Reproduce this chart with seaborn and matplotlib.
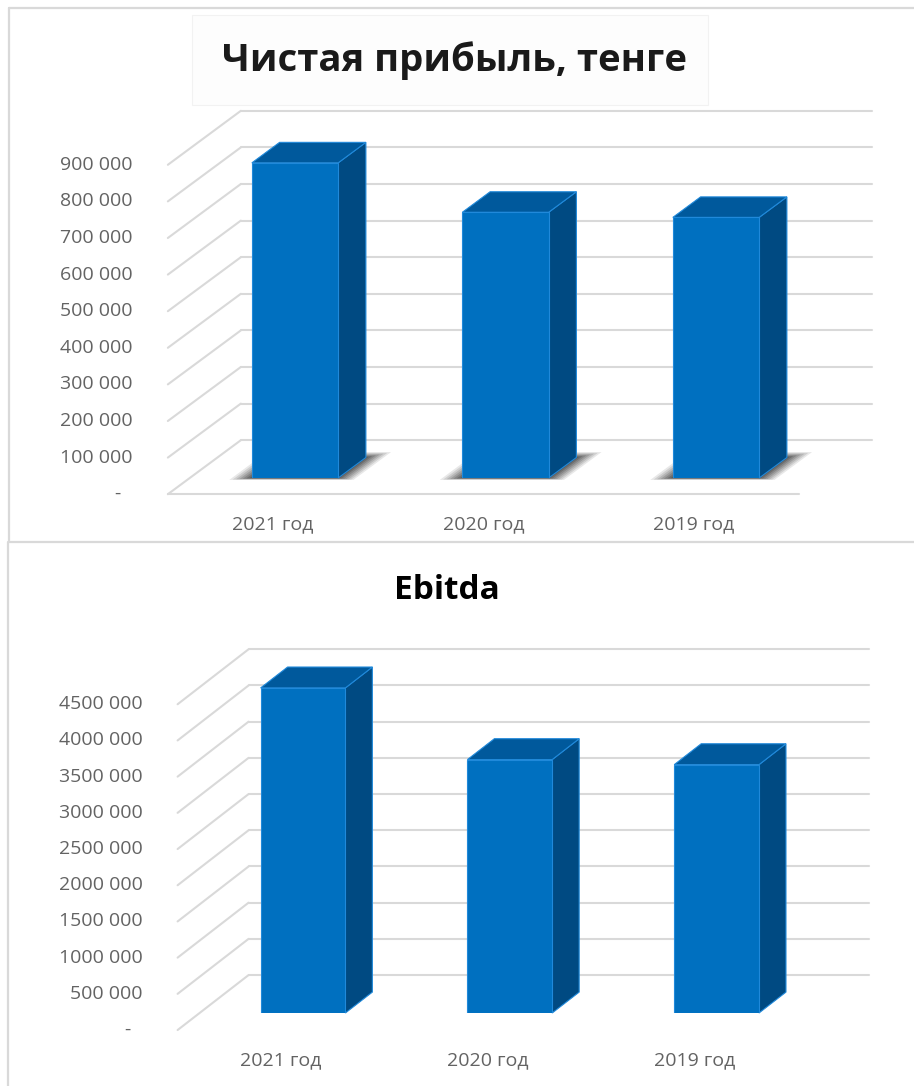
import numpy as np
import pandas as pd
import matplotlib
matplotlib.use("Agg")
import matplotlib.pyplot as plt
import seaborn as sns
from matplotlib.patches import Polygon, Rectangle
from matplotlib.lines import Line2D

# ---------------- data ----------------
categories = ["2021 год", "2020 год", "2019 год"]
profit_values = [861000, 726000, 712000]
ebitda_values = [4490000, 3500000, 3430000]

profit_ticks = [0, 100000, 200000, 300000, 400000, 500000, 600000, 700000, 800000, 900000]
profit_tick_labels = ["-", "100 000", "200 000", "300 000", "400 000", "500 000",
                      "600 000", "700 000", "800 000", "900 000"]
ebitda_ticks = [0, 500000, 1000000, 1500000, 2000000, 2500000, 3000000, 3500000, 4000000, 4500000]
ebitda_tick_labels = ["-", "500 000", "1000 000", "1500 000", "2000 000", "2500 000",
                      "3000 000", "3500 000", "4000 000", "4500 000"]

title_profit = "Чистая прибыль, тенге"
title_ebitda = "Ebitda"

# ---------------- style ----------------
FRONT = "#0070C0"
TOP = "#00599C"
SIDE = "#004A82"
EDGE = "#2089DA"
GRID = "#D9D9D9"
TXT = "#636363"
BORDER = "#D9D9D9"

sns.set_theme(style="white")
plt.rcParams["font.family"] = ["Open Sans", "DejaVu Sans"]

W, H = 914, 1086
fig = plt.figure(figsize=(W / 100, H / 100), dpi=100)
fig.patch.set_facecolor("white")


def rect(left, right, bottom, top):
    return [left / W, 1 - bottom / H, (right - left) / W, (bottom - top) / H]


def draw_panel(ax, values, ticks, tick_labels, D, f, dep, shadow, floor_line):
    df = pd.DataFrame({"year": categories, "value": values})
    sns.barplot(data=df, x="year", y="value", ax=ax, color=FRONT, saturation=1,
                width=0.41, edgecolor=EDGE, linewidth=0.8, zorder=4)
    ax.set_xlim(-0.5, 2.5)
    ax.set_ylim(0, ticks[-1])
    ax.set_axis_off()
    sc = fig.dpi / 100.0
    Dv = np.array(D, dtype=float) * sc

    def P(x, y, t):
        d = ax.transData.transform((x, y)) + Dv * t
        return ax.transData.inverted().transform(d)

    # back wall gridlines + left wall diagonals
    for v in ticks:
        a = P(-0.5, v, 1 - f)
        b = P(2.5, v, 1 - f)
        ax.add_line(Line2D([a[0], b[0]], [a[1], b[1]], color=GRID, lw=1.5,
                           clip_on=False, zorder=1))
        c = P(-0.5, v, -f)
        ax.add_line(Line2D([c[0], a[0]], [c[1], a[1]], color=GRID, lw=1.5,
                           clip_on=False, zorder=1))
    if floor_line:
        a = P(-0.5, 0, -f)
        b = P(2.5, 0, -f)
        ax.add_line(Line2D([a[0], b[0]], [a[1], b[1]], color=GRID, lw=1.5,
                           clip_on=False, zorder=1))

    # y tick labels on the front edge of the left wall
    for v, lab in zip(ticks, tick_labels):
        pos = P(-0.5, v, -f)
        dx = -35 if lab != "-" else -47
        ax.annotate(lab, xy=pos, xytext=(dx * sc, 0), textcoords="offset pixels",
                    ha="right", va="center", fontsize=14, color=TXT,
                    annotation_clip=False)
    # category labels
    for i, cat in enumerate(categories):
        pos = P(i, 0, -f)
        ax.annotate(cat, xy=pos, xytext=(0, -30 * sc), textcoords="offset pixels",
                    ha="center", va="center", fontsize=14, color=TXT,
                    annotation_clip=False)

    # 3D faces
    for p in list(ax.patches):
        x0 = p.get_x()
        w = p.get_width()
        h = p.get_height()
        if shadow:
            layers = [(1.0, 0.10), (0.85, 0.12), (0.7, 0.14), (0.55, 0.16),
                      (0.4, 0.18), (0.25, 0.22), (0.1, 0.25)]
            for ext, alpha in layers:
                xl = x0 - 0.095 * ext
                xr = x0 + w + 0.085 * ext
                pts = [P(xl, 0, -0.035 * ext), P(xr, 0, -0.035 * ext),
                       P(xr, 0, dep + 0.1 * ext), P(xl, 0, dep + 0.1 * ext)]
                ax.add_patch(Polygon(pts, closed=True, facecolor="#1e1e1e",
                                     edgecolor="none", alpha=alpha, zorder=2,
                                     clip_on=False))
        top = [P(x0, h, 0), P(x0 + w, h, 0), P(x0 + w, h, dep), P(x0, h, dep)]
        side = [P(x0 + w, 0, 0), P(x0 + w, h, 0), P(x0 + w, h, dep), P(x0 + w, 0, dep)]
        ax.add_patch(Polygon(side, closed=True, facecolor=SIDE, edgecolor=EDGE,
                             lw=0.8, zorder=3, clip_on=False))
        ax.add_patch(Polygon(top, closed=True, facecolor=TOP, edgecolor=EDGE,
                             lw=0.8, zorder=3, clip_on=False))


# ---------------- panel 1 ----------------
ax1 = fig.add_axes(rect(189.75, 821.25, 478, 478 - 9 * 36.6))
draw_panel(ax1, profit_values, profit_ticks, profit_tick_labels,
           D=(73, 54), f=0.30, dep=0.38, shadow=True, floor_line=True)

# ---------------- panel 2 ----------------
ax2 = fig.add_axes(rect(199.6, 820.0, 1013, 1013 - 9 * 36.2))
draw_panel(ax2, ebitda_values, ebitda_ticks, ebitda_tick_labels,
           D=(71, 55), f=0.31, dep=0.38, shadow=False, floor_line=False)

# ---------------- frames & titles ----------------
def fx(x):
    return x / W


def fy(y):
    return 1 - y / H


for (xa, ya, xb, yb) in [(9, 8, 914, 8), (9, 8, 9, 542), (9, 542, 914, 542),
                         (8, 542, 8, 1086)]:
    fig.add_artist(Line2D([fx(xa), fx(xb)], [fy(ya), fy(yb)], color=BORDER, lw=1.6))

fig.add_artist(Rectangle((fx(192), fy(105)), fx(708) - fx(192), fy(15) - fy(105),
                         facecolor="#FDFDFD", edgecolor="#F2F2F2", lw=0.8, zorder=0))

fig.text(fx(454), fy(71), title_profit, ha="center", va="baseline",
         fontsize=27.5, fontweight="bold", color="#1a1a1a")
fig.text(fx(446.5), fy(599), title_ebitda, ha="center", va="baseline",
         fontsize=24, fontweight="bold", color="#000000")

fig.savefig("out.png", dpi=100, facecolor="white")
